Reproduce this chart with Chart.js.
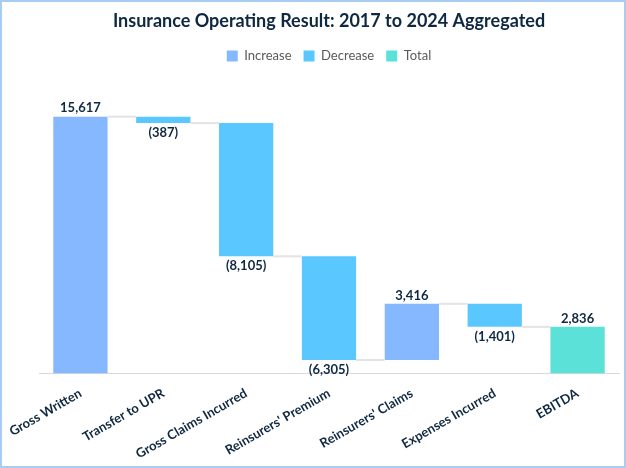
<!DOCTYPE html>
<html>
<head>
<meta charset="utf-8">
<script src="https://cdn.jsdelivr.net/npm/chart.js@4.4.1/dist/chart.umd.min.js"></script>
<style>
  html, body { margin: 0; padding: 0; background: #fff; }
  #wrap { width: 622px; height: 464px; border: 2px solid #A9CCF2; position: relative; }
  canvas { display: block; }
</style>
</head>
<body>
<div id="wrap"><canvas id="chart"></canvas></div>
<script>
// values
const categories = ['Gross Written', 'Transfer to UPR', 'Gross Claims Incurred', "Reinsurers' Premium", "Reinsurers' Claims", 'Expenses Incurred', 'EBITDA'];
const changes = [15617, -387, -8105, -6305, 3416, -1401, 2836];
const kinds = ['increase', 'decrease', 'decrease', 'decrease', 'increase', 'decrease', 'total'];

const navy = '#0E2841';
const colIncrease = '#85B8FF';
const colDecrease = '#5AC8FF';
const colTotal = '#5CE1D9';

// running totals -> floating ranges
let running = 0;
const ranges = [];
changes.forEach((v, i) => {
	if (kinds[i] == 'total') {
		ranges.push([0, v]);
		running = v;
	} else {
		ranges.push([running, running + v]);
		running += v;
	}
});

function pick(kind) {
	return ranges.map((r, i) => kinds[i] == kind ? r : null);
}

function fmt(v) {
	const s = Math.abs(v).toLocaleString('en-US');
	return v < 0 ? '(' + s + ')' : s;
}

const waterfallExtras = {
	id: 'waterfallExtras',
	afterDatasetsDraw(chart) {
		const ctx = chart.ctx;
		const x = chart.scales.x;
		const y = chart.scales.y;
		const step = x.getPixelForValue(1) - x.getPixelForValue(0);
		const bw = step * 0.655 / 2;

		// connector lines
		ctx.save();
		ctx.strokeStyle = '#E3E3E3';
		ctx.lineWidth = 2;
		for (let i = 0; i < ranges.length - 1; i++) {
			const lvl = y.getPixelForValue(ranges[i][1]);
			ctx.beginPath();
			ctx.moveTo(x.getPixelForValue(i) + bw, lvl);
			ctx.lineTo(x.getPixelForValue(i + 1) - bw, lvl);
			ctx.stroke();
		}

		// value labels
		ctx.fillStyle = navy;
		ctx.font = 'bold 13px Lato';
		ctx.textAlign = 'center';
		changes.forEach((v, i) => {
			const cx = x.getPixelForValue(i);
			const r = ranges[i];
			if (v >= 0) {
				ctx.textBaseline = 'bottom';
				ctx.fillText(fmt(v), cx, y.getPixelForValue(Math.max(r[0], r[1])) - 2);
			} else {
				ctx.textBaseline = 'top';
				ctx.fillText(fmt(v), cx, y.getPixelForValue(Math.min(r[0], r[1])) + 3);
			}
		});
		ctx.restore();
	}
};

const config = {
	type: 'bar',
	data: {
		labels: categories,
		datasets: [
			{ label: 'Increase', data: pick('increase'), backgroundColor: colIncrease },
			{ label: 'Decrease', data: pick('decrease'), backgroundColor: colDecrease },
			{ label: 'Total', data: pick('total'), backgroundColor: colTotal }
		]
	},
	options: {
		responsive: true,
		maintainAspectRatio: false,
		animation: false,
		layout: { padding: { left: 37, right: 5, top: 0, bottom: 0 } },
		datasets: {
			bar: { grouped: false, categoryPercentage: 1, barPercentage: 0.655, borderWidth: 0 }
		},
		plugins: {
			title: {
				display: true,
				text: 'Insurance Operating Result: 2017 to 2024 Aggregated',
				color: navy,
				font: { family: 'Lato', size: 18, weight: 'bold' },
				padding: { top: 8, bottom: 6 }
			},
			legend: {
				labels: {
					color: '#595959',
					font: { family: 'Lato', size: 13 },
					boxWidth: 11,
					boxHeight: 11,
					padding: 12
				}
			},
			tooltip: { enabled: false }
		},
		scales: {
			x: {
				grid: { display: false },
				border: { display: true, color: '#D9D9D9', width: 1 },
				ticks: {
					color: navy,
					font: { family: 'Lato', size: 13, weight: 'bold' },
					minRotation: 30,
					maxRotation: 30,
					padding: 4
				}
			},
			y: {
				display: false,
				min: 0,
				max: 18300
			}
		}
	},
	plugins: [waterfallExtras]
};

new Chart(document.getElementById('chart'), config);
</script>
</body>
</html>
